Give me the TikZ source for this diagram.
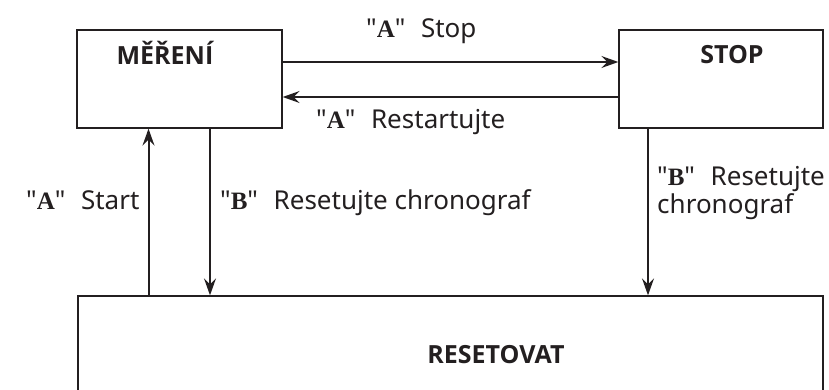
\documentclass[tikz,border=0pt]{standalone}
\usepackage{fontspec}
\newfontfamily\labelfont{Noto Sans}
\newfontfamily\titlefont{Open Sans}
\newfontfamily\keyfont{Liberation Serif}
\usetikzlibrary{arrows.meta}
\definecolor{ink}{RGB}{35,31,32}
\newcommand\keyq[1]{"{\keyfont\bfseries\fontsize{25}{28}\selectfont #1}"\hspace{.6em}}
\tikzset{
  box/.style={draw=ink,line width=1.3pt,inner sep=0pt},
  title/.style={font=\titlefont\bfseries\fontsize{25}{30}\selectfont,text=ink,inner sep=0pt,anchor=base},
  lbl/.style={font=\labelfont\fontsize{26}{28}\selectfont,text=ink,inner sep=0pt,anchor=base west,align=left},
  flow/.style={draw=ink,line width=2pt,-{Stealth[length=17pt,width=12pt,inset=6pt]}}
}
\begin{document}
\begin{tikzpicture}[x=1pt,y=-1pt]
  \useasboundingbox (0,0) rectangle (829,389);
  \node[box,minimum width=205pt,minimum height=98pt] (mereni) at (179.5,79) {};
  \node[box,minimum width=204pt,minimum height=98pt] (stop) at (721,79) {};
  \node[box,minimum width=745pt,minimum height=130pt] (reset) at (450.5,361) {};
  \node[title] (mereniT) at (165,64) {MĚŘENÍ};
  \node[title] (stopT) at (732,63) {STOP};
  \node[title] (resetT) at (496,363) {RESETOVAT};
  \coordinate (start) at ([xshift=-31pt]mereni.south);
  \coordinate (clear) at ([xshift=30.5pt]mereni.south);
  \coordinate (halt) at ([xshift=-73pt]stop.south);
  \draw[flow] ([yshift=17pt]mereni.east) -- ([yshift=17pt]stop.west);
  \draw[flow] ([yshift=-18pt]stop.west) -- ([yshift=-18pt]mereni.east);
  \draw[flow] (reset.north -| start) -- (start);
  \draw[flow] (clear) -- (reset.north -| clear);
  \draw[flow] (halt) -- (reset.north -| halt);
  \node[lbl] (stopL) at (366,37) {\keyq{A}Stop};
  \node[lbl] (restartL) at (316,128) {\keyq{A}Restartujte};
  \node[lbl] (startL) at (26,209) {\keyq{A}Start};
  \node[lbl] (clearL) at (220,209) {\keyq{B}Resetujte chronograf};
  \node[lbl] (haltL) at (657,213) {\keyq{B}Resetujte\\chronograf};
\end{tikzpicture}
\end{document}
